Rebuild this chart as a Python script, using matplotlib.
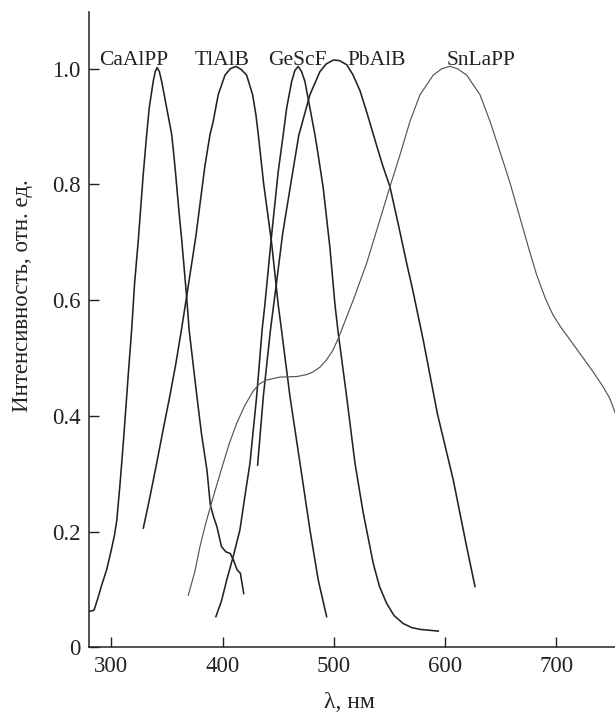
import matplotlib
matplotlib.use("Agg")
import matplotlib.pyplot as plt

plt.rcParams['font.family'] = ['Liberation Serif', 'DejaVu Serif']

# ---- data ----
caalpp_x = [280, 284.5, 288, 291, 296, 300, 303, 305, 308, 311, 316, 318.3, 321, 324.3, 328.8, 331.8, 334.1,
            337.7, 339.5, 341.3, 343.2, 345.3, 349.8, 352, 354.3, 356, 358, 360.5, 363.5, 367.7, 370, 373.5,
            377, 381, 386, 389, 392, 395, 399, 403, 407, 410, 413, 416, 419]
caalpp_y = [0.062, 0.064, 0.085, 0.105, 0.135, 0.168, 0.195, 0.22, 0.285, 0.358, 0.49, 0.548, 0.63, 0.704, 0.819, 0.886, 0.932,
            0.978, 0.995, 1.002, 0.995, 0.978, 0.932, 0.91, 0.886, 0.855, 0.815, 0.76, 0.70, 0.606, 0.548, 0.49,
            0.433, 0.37, 0.306, 0.246, 0.225, 0.208, 0.174, 0.165, 0.162, 0.15, 0.134, 0.128, 0.093]

tlalb_x = [328.8, 334, 340.8, 346.5, 352.7, 358, 363, 367.7, 372, 376, 380, 384, 388.7, 391.6, 396.1,
           402.2, 407, 412, 416.5, 421.6, 427, 430, 432.1, 437, 444, 450, 453, 460.6, 469.6,
           478.5, 486, 493.5]
tlalb_y = [0.206, 0.253, 0.318, 0.375, 0.435, 0.49, 0.548, 0.606, 0.66, 0.71, 0.77, 0.83, 0.886, 0.909, 0.955,
           0.989, 1.0, 1.004, 0.999, 0.989, 0.955, 0.92, 0.886, 0.80, 0.70, 0.592, 0.548, 0.433, 0.318,
           0.203, 0.116, 0.053]

gescf_x = [394, 399, 403.7, 410, 415.6, 420, 424.6, 430.6, 435.5, 438, 444.1, 450, 454.5, 457.6,
           462.1, 465, 468, 471, 474, 478.5, 483, 486, 490.5, 496.5, 501, 504, 511.5, 519, 526.4,
           535.4, 541, 547.4, 554, 562.4, 570, 577.4, 593.8]
gescf_y = [0.053, 0.08, 0.116, 0.16, 0.203, 0.26, 0.318, 0.433, 0.548, 0.592, 0.713, 0.822, 0.886, 0.932,
           0.978, 0.997, 1.004, 0.995, 0.978, 0.932, 0.886, 0.85, 0.793, 0.69, 0.592, 0.542, 0.433, 0.318, 0.232,
           0.145, 0.105, 0.076, 0.055, 0.041, 0.034, 0.031, 0.028]

pbalb_x = [431.5, 436.6, 443, 448.6, 454, 460.6, 468.5, 478.5, 487.5, 493, 499.5, 505, 511.5, 517,
           523.5, 530, 538, 544, 550.4, 558, 565.4, 570.8, 580.3, 593, 607.3, 619.3, 626.8]
pbalb_y = [0.315, 0.433, 0.548, 0.632, 0.715, 0.793, 0.885, 0.955, 0.995, 1.008, 1.015, 1.014, 1.007, 0.99,
           0.962, 0.922, 0.87, 0.832, 0.796, 0.73, 0.664, 0.618, 0.531, 0.404, 0.289, 0.174, 0.105]

snlapp_x = [369.2, 375, 379.7, 385, 391.6, 400.6, 406, 412.7, 420, 427.6, 433, 439.6, 451.6, 466.6,
            475, 481.5, 488, 493.5, 499, 504, 517.4, 529.5, 541.4, 550.4, 559.4, 568.4, 577.4,
            589.3, 597, 604.3, 611, 619.3, 631.3, 640.3, 649.2, 658.2, 667, 675, 682, 690, 697,
            704, 712, 724, 733, 742, 748, 753]
snlapp_y = [0.09, 0.13, 0.174, 0.215, 0.26, 0.318, 0.352, 0.387, 0.418, 0.443, 0.455, 0.462, 0.467, 0.468,
            0.471, 0.476, 0.485, 0.497, 0.513, 0.534, 0.6, 0.664, 0.739, 0.796, 0.851, 0.909, 0.955,
            0.989, 1.0, 1.004, 1.0, 0.989, 0.955, 0.909, 0.857, 0.803, 0.744, 0.69, 0.645, 0.603, 0.574,
            0.553, 0.532, 0.50, 0.476, 0.45, 0.43, 0.404]

labels = ["CaAlPP", "TlAlB", "GeScF", "PbAlB", "SnLaPP"]
label_x = [320.4, 399.5, 466.8, 538.7, 632.2]
label_y = [1.007, 1.007, 1.007, 1.007, 1.007]

xticks = [300, 400, 500, 600, 700]
yticks = [0, 0.2, 0.4, 0.6, 0.8, 1.0]
yticklabels = ["0", "0.2", "0.4", "0.6", "0.8", "1.0"]

# ---- figure ----
fig = plt.figure(figsize=(6.15, 7.13), dpi=100)
ax = fig.add_axes([89/615, 65.7/713, 526/615, 635.3/713])

dark = '#222222'
kw = dict(color=dark, lw=1.15, solid_joinstyle='round')
ax.plot(caalpp_x, caalpp_y, **kw)
ax.plot(tlalb_x, tlalb_y, **kw)
ax.plot(gescf_x, gescf_y, **kw)
ax.plot(pbalb_x, pbalb_y, **kw)
ax.plot(snlapp_x, snlapp_y, color='#555555', lw=0.85, solid_joinstyle='round')

for t, x, y in zip(labels, label_x, label_y):
    ax.text(x, y, t, ha='center', va='baseline', fontsize=15.5, color='#222222')

ax.set_xlim(280, 752.6)
ax.set_ylim(0, 1.098)
ax.set_xticks(xticks)
ax.set_yticks(yticks)
ax.set_yticklabels(yticklabels)
ax.tick_params(direction='in', length=7, width=1, labelsize=16.5, pad=6, colors='#222222')

for s in ['top', 'right']:
    ax.spines[s].set_visible(False)
for s in ['left', 'bottom']:
    ax.spines[s].set_linewidth(1.1)
    ax.spines[s].set_color('#222222')

fig.text(349/615, 1 - 702/713, "λ, нм", ha='center', va='center', fontsize=17, color='#222222')
fig.text(23/615, 1 - 296/713, "Интенсивность, отн. ед.", ha='center', va='center',
         rotation=90, fontsize=16.5, color='#222222')

fig.savefig("out.png", dpi=100)
